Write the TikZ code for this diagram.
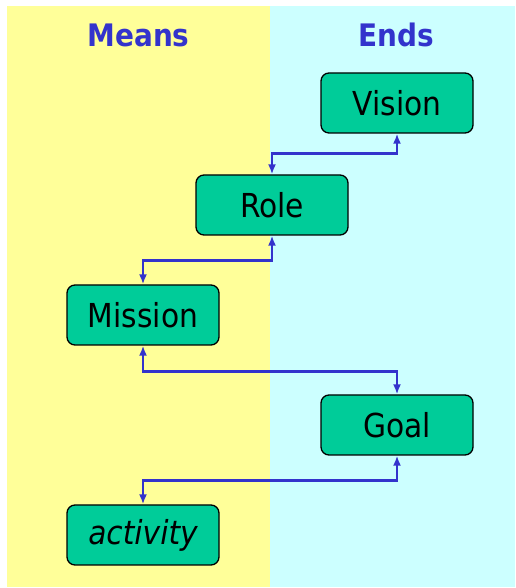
\documentclass[tikz,border=0pt]{standalone}
\usepackage{fontspec}
\setmainfont{DejaVu Sans Condensed}
\usetikzlibrary{arrows.meta}
\definecolor{panelyellow}{HTML}{FFFF99}
\definecolor{panelcyan}{HTML}{CCFFFF}
\definecolor{boxgreen}{HTML}{00CC99}
\definecolor{linkblue}{HTML}{3333CC}
\begin{document}
\begin{tikzpicture}[x=1pt,y=1pt,
  box/.style={draw=black, line width=1.3pt, fill=boxgreen, rounded corners=8pt,
    minimum width=152pt, minimum height=60pt, inner sep=0pt,
    font=\fontsize{33}{36}\selectfont},
  title/.style={text=linkblue, font=\fontsize{31}{34}\selectfont\bfseries},
  conn/.style={draw=linkblue, line width=2.6pt,
    {Latex[length=10pt,width=8pt]}-{Latex[length=10pt,width=8pt]}}]
\useasboundingbox (0,0) rectangle (515,588);
\fill[panelyellow] (7,1) rectangle (270,582);
\fill[panelcyan] (270,1) rectangle (515,582);
\node[title] (means) at (138.5,553) {Means};
\node[title] (ends) at (396,553) {Ends};
\node[box] (vision) at (397,485) {Vision};
\node[box] (role) at (272,383) {Role};
\node[box] (mission) at (143,273) {Mission};
\node[box] (goal) at (397,163) {Goal};
\node[box] (activity) at (143,53) {\itshape activity};
\draw[conn] (vision.south) -- ++(0,-20) -| (role.north);
\draw[conn] (role.south) -- ++(0,-25) -| (mission.north);
\draw[conn] (mission.south) -- ++(0,-26) -| (goal.north);
\draw[conn] (goal.south) -- ++(0,-25) -| (activity.north);
\end{tikzpicture}
\end{document}
